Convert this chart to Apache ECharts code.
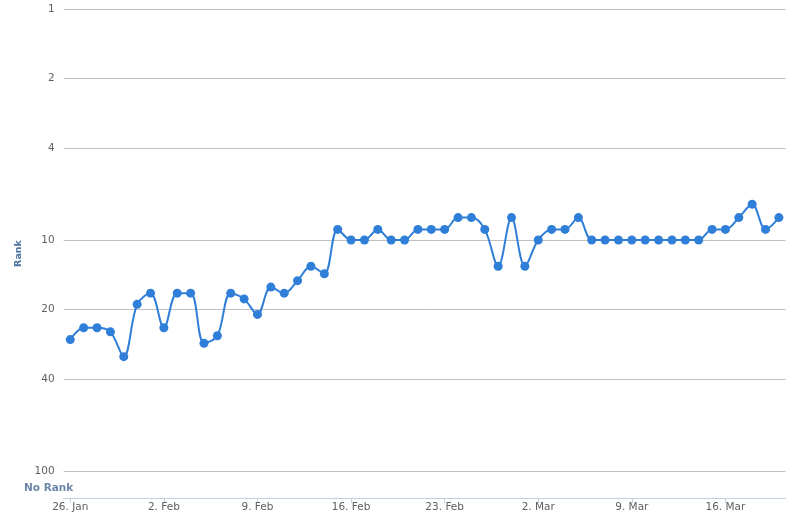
<!DOCTYPE html>
<html>
<head>
<meta charset="utf-8">
<script src="https://cdn.jsdelivr.net/npm/echarts@6/dist/echarts.min.js"></script>
<style>
html,body{margin:0;padding:0;background:#fff;}
#chart{width:798px;height:521px;}
</style>
</head>
<body>
<div id="chart"></div>
<script>
// Daily ranks from 26 Jan to 20 Mar
var startDate = Date.UTC(2015, 0, 26);
var months = ['Jan','Feb','Mar','Apr','May','Jun','Jul','Aug','Sep','Oct','Nov','Dec'];
var ranks = [27, 24, 24, 25, 32, 19, 17, 24, 17, 17,
             28, 26, 17, 18, 21, 16, 17, 15, 13, 14,
             9, 10, 10, 9, 10, 10, 9, 9, 9, 8,
             8, 9, 13, 8, 13, 10, 9, 9, 8, 10,
             10, 10, 10, 10, 10, 10, 10, 10, 9, 9,
             8, 7, 9, 8];
var yTicks = [1, 2, 4, 10, 20, 40, 100];
var categories = [];
for (var i = 0; i < ranks.length; i++) {
  var d = new Date(startDate + i * 86400000);
  categories.push(d.getUTCDate() + '. ' + months[d.getUTCMonth()]);
}

var FONT = 'DejaVu Sans';
var chart = echarts.init(document.getElementById('chart'), null, {renderer: 'canvas'});
chart.setOption({
  animation: false,
  backgroundColor: '#ffffff',
  textStyle: {fontFamily: FONT},
  grid: {left: 63.6, right: 12.4, top: 9, bottom: 23, containLabel: false},
  xAxis: {
    type: 'category',
    data: categories,
    boundaryGap: true,
    axisLine: {lineStyle: {color: '#C0D0E0', width: 1}},
    axisTick: {show: true, interval: 6, alignWithLabel: true, length: 5, lineStyle: {color: '#C0D0E0'}},
    axisLabel: {interval: 6, color: '#606060', fontSize: 10.5, fontFamily: FONT, margin: 4},
    splitLine: {show: false}
  },
  yAxis: {
    type: 'log',
    logBase: 10,
    inverse: true,
    min: 1,
    max: 131,
    name: 'Rank',
    nameLocation: 'middle',
    nameGap: 37,
    nameRotate: 90,
    nameTextStyle: {color: '#4D759E', fontWeight: 'bold', fontSize: 9.5, fontFamily: FONT},
    axisLine: {show: false},
    axisTick: {show: false, customValues: yTicks},
    axisLabel: {customValues: yTicks, color: '#606060', fontSize: 10.5, fontFamily: FONT, margin: 9,
      formatter: function (v) { return String(Math.round(v)); }},
    splitLine: {show: true, lineStyle: {color: '#C0C0C0', width: 1}}
  },
  graphic: [{
    type: 'text',
    left: 24,
    top: 483,
    style: {text: 'No Rank', font: 'bold 10.5px "DejaVu Sans"', fill: '#6D86A8'}
  }],
  series: [{
    type: 'line',
    data: ranks,
    smooth: 0.35,
    symbol: 'circle',
    symbolSize: 9,
    showSymbol: true,
    showAllSymbol: true,
    itemStyle: {color: '#2F7ED8'},
    lineStyle: {color: '#2F7ED8', width: 2}
  }]
});
</script>
</body>
</html>
